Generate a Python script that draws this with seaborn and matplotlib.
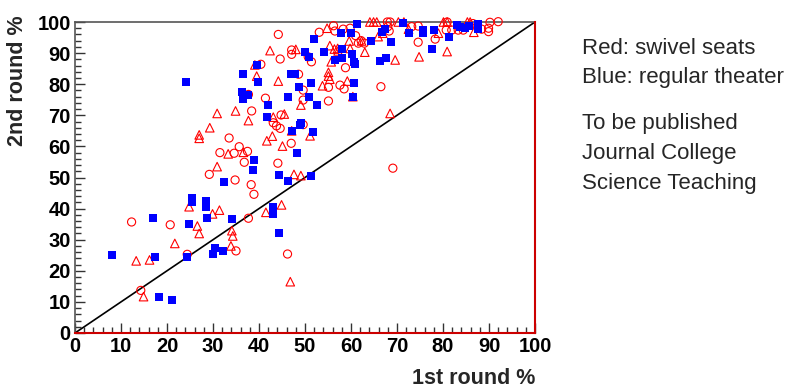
import numpy as np
import pandas as pd
import matplotlib
matplotlib.use("Agg")
import matplotlib.pyplot as plt
from matplotlib.ticker import MultipleLocator
import seaborn as sns

# regular theater (blue filled squares): 1st round %, 2nd round %
blue_x = [8, 17, 17.4, 18.3, 21.1, 24.3, 24.8, 25.5, 25.5, 28.5, 28.5, 28.6, 29.9, 30.4, 32.1,
          34.1, 32.4, 38.9, 38.8, 43, 43, 44.3, 44.3, 46.2, 51.2, 48.2, 41.7, 47.1, 48.9, 51.8,
          49.1, 42, 36.2, 36.6, 37.5, 46.4, 24.1, 36.6, 39.8, 39.5, 46.9, 47.8, 48.8, 50.9, 52.7,
          51.3, 60.4, 60.7, 49.9, 50.9, 54.1, 52, 56.5, 58, 58, 60.3, 60.7, 60.9, 57.8, 60,
          61.4, 64.3, 66.8, 67.4, 66.3, 67.5, 68.8, 71.4, 72.5, 75.7, 75.7, 78, 77.7, 81.2, 83,
          83.8, 84.8, 85.7, 87.7, 87.7]
blue_y = [25, 37, 24.5, 11.6, 10.7, 24.5, 35, 43.5, 42, 42.5, 40.5, 37, 25.3, 27.4, 26.5,
          36.7, 48.7, 55.6, 52.4, 40.6, 38.2, 32.2, 50.8, 49, 50.6, 57.8, 69.6, 65, 66.9, 64.7,
          67.4, 73.3, 77.4, 75.2, 76.5, 75.9, 80.8, 83.4, 80.8, 86.2, 83.4, 83.4, 79.2, 76, 73.3,
          80.3, 76, 80.5, 90.3, 88.8, 90.5, 94.5, 87.8, 88.3, 91.3, 89.6, 87, 86.4, 96.4, 96.4,
          99.4, 93.9, 96.9, 97.9, 87.5, 88.5, 93.5, 99.6, 96.4, 97.4, 96.4, 97.4, 91.3, 95.3, 99,
          98.5, 98.2, 98.8, 99.2, 97.7]

# swivel seats, open circles
circ_x = [12.3, 20.7, 14.3, 24.4, 35, 37.7, 38.3, 38.9, 46.2, 69.1, 34.8, 29.2, 36.8, 44.1, 31.5,
          33.5, 35.7, 34.6, 37.5, 47, 43.1, 43.8, 44.6, 49.6, 38.4, 44.8, 37.7, 41.4, 40.4, 44.2,
          47.1, 47.1, 44.6, 48.6, 50.7, 51.4, 49.6, 55.1, 57.6, 58.5, 66.5, 49.6, 55.1, 58.8, 56.2,
          53.1, 56.5, 58.3, 59.8, 61, 61.6, 62.9, 62.2, 68, 68.3, 67.9, 68.5, 73.2, 74.6, 74.6,
          78.3, 80.7, 81.9, 83.3, 84.4, 88.4, 89.9, 89.9, 90.2, 92, 80.9, 86.5]
circ_y = [35.7, 34.8, 13.7, 25.3, 26.4, 36.9, 47.7, 44.6, 25.4, 53, 49.2, 51, 54.9, 54.6, 58,
          62.7, 59.9, 57.8, 58.4, 61, 67.6, 66.6, 65.8, 67, 71.4, 70.1, 76.7, 75.5, 86.4, 96,
          91, 89.6, 88.1, 83.2, 88.8, 87.2, 78.1, 79, 79.7, 78.5, 79.2, 74.9, 74.6, 85.3, 98.8,
          96.7, 97.1, 97.7, 98, 95.6, 93.2, 93.2, 94, 98.5, 97.1, 100, 100, 98.5, 93.5, 98.7,
          94.5, 97.4, 97.4, 97.4, 97.4, 97.7, 98, 96.9, 99.9, 100.1, 100, 99.5]

# swivel seats, open triangles
tri_x = [13.3, 16.2, 14.9, 21.7, 24.8, 26.6, 27, 29.9, 31.4, 34.1, 34.3, 33.9, 41.5, 44.9, 46.8,
         47.6, 49.1, 30.9, 33.3, 36.6, 27, 27, 29.3, 30.9, 34.9, 37.7, 41.7, 42.9, 45.1, 43.1,
         45.5, 47.1, 51.1, 39.1, 39.5, 44.2, 42.4, 48, 49.1, 53.8, 55.1, 55.1, 55.4, 59.2, 60.4,
         55.7, 55.4, 56.4, 57.1, 57.2, 59.8, 59.6, 62.3, 63, 65.9, 66.9, 69.6, 68.5, 54.8, 64.1,
         64.9, 65.6, 70.3, 71.5, 72.5, 79, 74.8, 80.9, 80.1, 80.9, 85.3, 85.9, 86.7]
tri_y = [23.2, 23.5, 11.7, 28.8, 40.6, 34.4, 32, 38.3, 39.5, 32.9, 31.2, 28, 38.8, 41.2, 16.5,
         51, 50.6, 53.5, 57.6, 58.1, 63.7, 62.6, 66, 70.6, 71.4, 68.3, 61.8, 63.3, 60.1, 69.4,
         70.4, 65, 63.4, 86.2, 82.6, 81, 90.8, 91.2, 73.3, 79.5, 83.8, 82.6, 81.6, 81, 76,
         87.2, 92.4, 91.3, 91.5, 90.7, 91.5, 93.9, 93.9, 90.3, 95.3, 96.4, 87.8, 70.6, 98, 100,
         100, 100, 100, 100, 97.7, 96.4, 88.8, 90.5, 100, 100, 100, 100, 96.7]

legend_lines = ["Red: swivel seats", "Blue: regular theater"]
note_lines = ["To be published", "Journal College", "Science Teaching"]

blue = pd.DataFrame({"first": blue_x, "second": blue_y})
circ = pd.DataFrame({"first": circ_x, "second": circ_y})
tri = pd.DataFrame({"first": tri_x, "second": tri_y})

sns.set_style("ticks")
plt.rcParams["font.family"] = ["Liberation Sans", "DejaVu Sans"]

fig = plt.figure(figsize=(8.01, 3.89), dpi=100)
ax = fig.add_axes([75 / 801, 56 / 389, 460 / 801, 311 / 389])

# diagonal y = x
ax.plot([0, 100], [0, 100], color="black", lw=1.2, zorder=1)

sns.scatterplot(data=circ, x="first", y="second", ax=ax, marker="o", s=34,
                facecolors="none", edgecolor="#ff0000", linewidth=0.8, clip_on=False, zorder=3)
sns.scatterplot(data=tri, x="first", y="second", ax=ax, marker="^", s=38,
                facecolors="none", edgecolor="#ff0000", linewidth=0.8, clip_on=False, zorder=3)
sns.scatterplot(data=blue, x="first", y="second", ax=ax, marker="s", s=28,
                color="#0000ff", edgecolor="#0000ff", linewidth=0, clip_on=False, zorder=4)

ax.set_xlim(0, 100)
ax.set_ylim(0, 100)
ax.xaxis.set_major_locator(MultipleLocator(10))
ax.yaxis.set_major_locator(MultipleLocator(10))
ax.xaxis.set_minor_locator(MultipleLocator(2))
ax.yaxis.set_minor_locator(MultipleLocator(2))
ax.tick_params(which="major", direction="in", length=7, width=1, colors="#333333",
               labelcolor="black", labelsize=14.5, pad=3)
ax.tick_params(which="minor", direction="in", length=4, width=1, colors="#333333")
for lab in ax.get_xticklabels() + ax.get_yticklabels():
    lab.set_fontweight("bold")

for side in ["left", "top"]:
    ax.spines[side].set_color("#555555")
    ax.spines[side].set_linewidth(1.2)
for side in ["right", "bottom"]:
    ax.spines[side].set_color("#cc0000")
    ax.spines[side].set_linewidth(1.5)
    ax.spines[side].set_zorder(5)

ax.set_xlabel("1st round %", fontsize=15.5, fontweight="bold", loc="right", va="center")
ax.xaxis.set_label_coords(1.0, -0.145)
ax.set_ylabel("2nd round %", fontsize=15.5, fontweight="bold", loc="top", va="center")
ax.yaxis.set_label_coords(-0.124, 1.022)

ty = [48, 78]
for t, y in zip(legend_lines, ty):
    fig.text(582 / 801, 1 - y / 389, t, fontsize=16, va="center", ha="left")
for i, t in enumerate(note_lines):
    fig.text(582 / 801, 1 - (123 + 30.5 * i) / 389, t, fontsize=16, va="center", ha="left")

fig.savefig("out.png", dpi=100)
